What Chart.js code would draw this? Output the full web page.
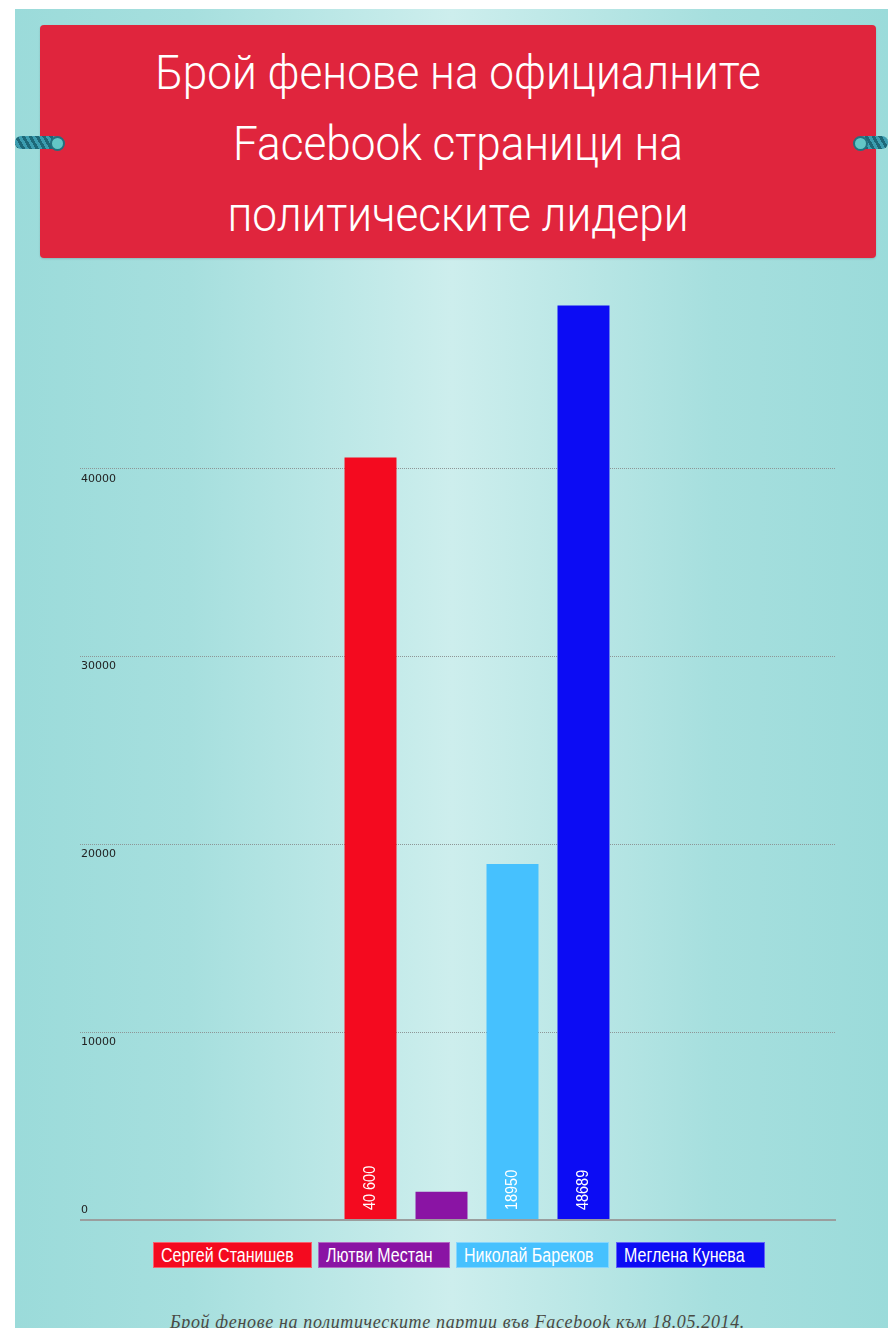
<!DOCTYPE html>
<html><head><meta charset="utf-8">
<script src="https://cdn.jsdelivr.net/npm/chart.js@4.4.1/dist/chart.umd.min.js"></script>
<style>
html,body{margin:0;padding:0;width:888px;height:1328px;overflow:hidden;background:#fff;}
#frame{position:absolute;left:15px;top:9px;width:873px;height:1319px;
 background:linear-gradient(90deg,#9bdbda 0%,#a6dfde 20%,#cdeeed 50%,#a6dfde 80%,#9bdbda 100%);}
#banner{position:absolute;left:40px;top:25px;width:836px;height:233px;background:#e0253d;border-radius:4px;
 box-shadow:0 1px 2px rgba(0,0,0,0.15);}
#title{position:absolute;left:40px;top:37px;width:836px;text-align:center;color:#fff;
 font-family:Roboto,"Open Sans",sans-serif;font-weight:300;font-size:49px;line-height:71px;}
#title div{display:block;transform:scaleX(0.9);transform-origin:50% 50%;}
.rope{position:absolute;height:13px;border-radius:6px;
 background:repeating-linear-gradient(60deg,#1d6878 0 3px,#3c9db0 3px 6px);}
.cap{position:absolute;width:11px;height:11px;border-radius:50%;background:#63c6c6;border:2px solid #23707e;}
#chartwrap{position:absolute;left:0;top:260px;width:888px;height:980px;}
#legend{position:absolute;top:1242px;left:0;width:888px;height:26px;}
.lg{position:absolute;top:0;height:26px;line-height:25px;color:#fff;box-sizing:border-box;padding-left:7px;
 font-family:"Liberation Sans",Arial,sans-serif;font-size:20px;overflow:hidden;
 border:1px solid rgba(255,255,255,0.35);white-space:nowrap;}
.lg span{display:inline-block;transform:scaleX(0.8);transform-origin:0 50%;}
#caption{position:absolute;top:1312px;left:21px;width:873px;text-align:center;color:#4a4a44;letter-spacing:0.65px;
 font-family:"Liberation Serif","DejaVu Serif",serif;font-style:italic;font-size:18px;}
</style></head>
<body>
<div id="frame"></div>
<div id="banner"></div>
<div id="title"><div>Брой фенове на официалните</div><div>Facebook страници на</div><div>политическите лидери</div></div>
<div class="rope" style="left:15px;top:136px;width:44px;"></div>
<div class="cap" style="left:50px;top:136px;"></div>
<div class="rope" style="left:858px;top:136px;width:30px;"></div>
<div class="cap" style="left:853px;top:136px;"></div>
<div id="chartwrap"><canvas id="c" width="888" height="980"></canvas></div>
<div id="legend"></div>
<div id="caption">Брой фенове на политическите партии във Facebook към 18.05.2014.</div>
<script>
const leaders = ['Сергей Станишев', 'Лютви Местан', 'Николай Бареков', 'Меглена Кунева'];
const fans = [40600, 1500, 18950, 48689];
const valueLabels = ['40 600', '', '18950', '48689'];
const colors = ['#f40a1f', '#8a14a4', '#46c1fe', '#0c0cf4'];
const yTicks = [0, 10000, 20000, 30000, 40000, 50000];

// HTML legend built from data
const legendPos = [[153,159],[318,132],[456,153],[616,149]];
const lg = document.getElementById('legend');
leaders.forEach((name, i) => {
  const d = document.createElement('div');
  d.className = 'lg';
  const s = document.createElement('span');
  s.textContent = name;
  d.appendChild(s);
  d.style.background = colors[i];
  d.style.left = legendPos[i][0] + 'px';
  d.style.width = legendPos[i][1] + 'px';
  lg.appendChild(d);
});

const valueLabelPlugin = {
  id: 'valueLabels',
  afterDatasetsDraw(chart) {
    const ctx = chart.ctx;
    chart.data.datasets.forEach((ds, i) => {
      const lbl = valueLabels[i];
      if (!lbl) return;
      const el = chart.getDatasetMeta(i).data[0];
      ctx.save();
      ctx.translate(el.x, el.base - 9);
      ctx.rotate(-Math.PI / 2);
      ctx.scale(0.85, 1);
      ctx.font = '17px "Liberation Sans", Arial, sans-serif';
      ctx.fillStyle = '#ffffff';
      ctx.textAlign = 'left';
      ctx.textBaseline = 'middle';
      ctx.fillText(lbl, 0, 0);
      ctx.restore();
    });
  }
};

const isZero = (ctx) => ctx.tick && ctx.tick.value === 0;
const isTop = (ctx) => ctx.tick && ctx.tick.value === 50000;

new Chart(document.getElementById('c'), {
  type: 'bar',
  data: {
    labels: [''],
    datasets: leaders.map((name, i) => ({
      label: name,
      data: [fans[i]],
      backgroundColor: colors[i],
      borderWidth: 0,
      categoryPercentage: 0.3955,
      barPercentage: 0.732
    }))
  },
  options: {
    responsive: false,
    animation: false,
    devicePixelRatio: 1,
    layout: { padding: { left: 81, right: 52, top: 21, bottom: 20 } },
    plugins: { legend: { display: false }, tooltip: { enabled: false } },
    scales: {
      x: { display: false },
      y: {
        min: 0, max: 50000,
        afterFit(scale) { scale.width = 37; scale.paddingTop = 0; scale.paddingBottom = 0; },
        afterBuildTicks(scale) { scale.ticks = yTicks.map(v => ({ value: v })); },
        ticks: {
          crossAlign: 'far',
          labelOffset: 10,
          color: '#222',
          font: (ctx) => isZero(ctx)
            ? { family: '"DejaVu Sans", Verdana, sans-serif', size: 11, lineHeight: '20px' }
            : { family: '"DejaVu Sans", Verdana, sans-serif', size: 11 },
          callback: (v) => v === 50000 ? '' : (v === 0 ? ['0', '', ''] : String(v))
        },
        border: {
          display: false,
          dash: (ctx) => isZero(ctx) ? [] : [1, 1]
        },
        grid: {
          drawTicks: true,
          tickLength: 38,
          color: (ctx) => isTop(ctx) ? 'rgba(0,0,0,0)' : (isZero(ctx) ? '#9a9e9e' : '#8e9696'),
          tickColor: (ctx) => isTop(ctx) ? 'rgba(0,0,0,0)' : (isZero(ctx) ? '#9a9e9e' : '#8e9696'),
          lineWidth: (ctx) => isZero(ctx) ? 2 : 1,
          tickWidth: (ctx) => isZero(ctx) ? 2 : 1,
          tickBorderDash: (ctx) => isZero(ctx) ? [] : [1, 1]
        }
      }
    }
  },
  plugins: [valueLabelPlugin]
});
</script>
</body></html>
